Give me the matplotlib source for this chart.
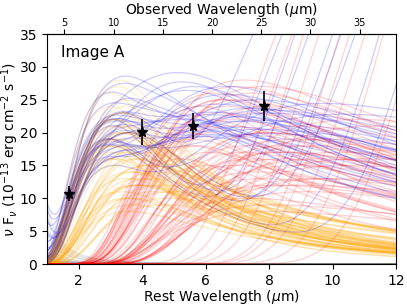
import numpy as np
import matplotlib.pyplot as plt

# photometry (rest frame)
wave_obs = [1.7, 4.0, 5.6, 7.85]
flux_obs = [10.7, 20.1, 21.0, 24.0]
flux_err = [1.1, 2.0, 2.0, 2.3]

one_plus_z = 3.225

# fitted samples: hot component (orange), warm component (red), stellar (gray)
orange_peak = [3.3, 3.0, 3.5, 3.2, 2.9, 3.6, 3.1, 3.0, 3.4, 3.25, 2.95, 3.5, 3.05, 3.3, 3.45, 3.1, 3.6, 3.2, 2.9, 3.4,
               3.15, 3.35, 3.55, 3.0, 3.2, 3.5, 3.05, 3.4, 3.2, 3.1, 3.25, 2.95, 3.6, 3.2, 3.4, 3.0, 3.3, 3.15, 3.5, 3.2]
orange_height = [28, 26, 24, 22, 19, 20, 18, 17, 23, 20, 16, 25, 19, 21, 18, 22, 20, 16, 18, 23,
                 21, 17, 20, 24, 16, 19, 22, 20, 18, 21, 27, 19, 17, 22, 20, 18, 23, 15, 21, 19]
orange_slope = [3.0, 2.8, 3.2, 2.6, 3.4, 2.9, 3.1, 2.7, 3.3, 3.0, 2.5, 3.2, 2.9, 3.5, 2.8, 3.0, 2.6, 3.1, 3.3, 2.7,
                3.0, 2.9, 3.4, 2.8, 3.2, 2.6, 3.1, 3.0, 2.7, 3.3, 2.9, 3.2, 2.8, 3.0, 3.5, 2.6, 3.1, 2.9, 3.0, 2.7]

red_peak = [8.0, 9.0, 7.5, 10.0, 8.5, 7.0, 9.5, 8.0, 11.0, 7.8, 8.8, 9.2, 14.0, 7.2, 10.5, 8.2, 18.0, 9.0, 7.6, 12.0,
            8.4, 9.8, 16.0, 7.4, 8.6, 10.2, 20.0, 9.4, 7.9, 13.0, 8.1, 11.5, 15.0, 9.6, 7.3, 22.0, 8.9, 10.8, 17.0, 8.3]
red_height = [8, 12, 16, 13, 17, 15, 18, 20, 16, 13, 19, 11, 70, 17, 15, 12, 90, 21, 14, 55,
              16, 19, 80, 10, 18, 17, 120, 13, 20, 60, 9, 21, 75, 16, 18, 150, 15, 22, 85, 17]
red_slope = [1.2, 1.0, 1.4, 1.1, 1.3, 1.5, 1.0, 1.2, 0.9, 1.4, 1.1, 1.3, 2.0, 1.6, 1.0, 1.2, 2.0, 1.1, 1.5, 1.8,
             1.3, 1.0, 2.2, 1.4, 1.2, 1.1, 2.0, 1.3, 1.5, 1.9, 1.2, 0.9, 2.0, 1.1, 1.6, 2.2, 1.3, 1.0, 2.0, 1.2]

star_amp = [0.5, 1.0, 0.0, 2.0, 0.3, 0.0, 8.0, 1.5, 0.0, 0.6, 3.0, 0.0, 0.2, 1.0, 0.0, 6.0, 0.4, 0.0, 1.2, 0.0,
            9.0, 0.5, 0.0, 2.5, 0.8, 0.0, 0.3, 4.5, 0.0, 1.0, 0.2, 0.0, 7.0, 0.6, 0.0, 1.8, 0.0, 0.4, 5.0, 0.0]

# other posterior draws of the single components
orange_extra_peak = [3.6, 4.0, 3.8, 4.4, 3.5, 4.2, 3.9, 4.6, 3.7, 4.1, 3.4, 4.8, 3.8, 4.3, 3.6, 4.0, 5.0, 3.9, 4.5, 3.7,
                     4.2, 3.5, 4.7, 4.0, 3.8]
orange_extra_height = [14, 12, 16, 11, 10, 15, 13, 12, 9, 17, 11, 10, 14, 13, 8, 16, 11, 12, 14, 10, 15, 13, 9, 18, 12]
orange_extra_slope = [2.4, 2.0, 2.8, 1.8, 2.6, 2.2, 3.0, 1.9, 2.5, 2.3, 2.7, 1.8, 2.1, 2.9, 2.4, 2.0, 1.9, 2.6, 2.2, 2.8,
                      2.1, 2.5, 2.0, 2.3, 2.7]

red_extra_peak = [6.0, 6.5, 5.5, 7.0, 6.2, 5.8, 7.5, 6.8, 5.2, 6.4, 7.2, 5.6, 6.6, 8.0, 6.1, 5.4, 7.8, 6.9, 5.9, 6.3,
                  7.4, 5.7, 6.7, 7.1, 6.0]
red_extra_height = [22, 25, 18, 27, 20, 24, 26, 21, 16, 23, 28, 19, 25, 24, 17, 20, 27, 22, 21, 26, 23, 18, 24, 25, 15]
red_extra_slope = [1.8, 2.2, 2.5, 1.6, 2.0, 2.4, 1.5, 1.9, 2.6, 2.1, 1.7, 2.3, 1.8, 1.5, 2.5, 2.2, 1.6, 2.0, 2.4, 1.7,
                   1.9, 2.3, 2.1, 1.8, 2.6]


def shape(r, slope, sharp):
    return r ** (-slope) * np.exp(-(slope / sharp) * (r ** (-sharp) - 1))


def bump(x, peak, height, slope, sharp, rise=2.0):
    # Wien-like cutoff on the blue side, power law on the red side
    r = x / peak
    left = shape(r, rise, sharp)
    right = shape(r, slope, sharp)
    return height * np.where(r < 1, left, right)


def stellar(x, amp):
    return amp * x ** (-2.5)


x = np.linspace(1, 12, 400)

fig = plt.figure(figsize=(4.07, 3.05), dpi=100)
ax = fig.add_axes([0.1155, 0.1344, 0.8575, 0.7541])

lw = 0.9
for a in star_amp:
    ax.plot(x, stellar(x, a), color='gray', alpha=0.15, lw=lw)

for p, h, s in zip(orange_extra_peak, orange_extra_height, orange_extra_slope):
    ax.plot(x, bump(x, p, h, s, 1.5), color='orange', alpha=0.25, lw=lw)
for p, h, s in zip(red_extra_peak, red_extra_height, red_extra_slope):
    ax.plot(x, bump(x, p, h, s, 2.0, rise=s), color='red', alpha=0.18, lw=lw)

# each sample: total, then its components on top
for i in range(len(orange_peak)):
    hot = bump(x, orange_peak[i], orange_height[i], orange_slope[i], 1.5)
    warm = bump(x, red_peak[i], red_height[i], red_slope[i], 2.5, rise=red_slope[i])
    total = hot + warm + stellar(x, star_amp[i])
    ax.plot(x, total, color='blue', alpha=0.2, lw=lw)
    ax.plot(x, hot, color='orange', alpha=0.2, lw=lw)
    ax.plot(x, warm, color='red', alpha=0.18, lw=lw)

ax.errorbar(wave_obs, flux_obs, yerr=flux_err, fmt='*', color='k', ms=8, elinewidth=1.2, capsize=0, zorder=10)

ax.set_xlim(1, 12)
ax.set_ylim(0, 35)
ax.set_xticks([2, 4, 6, 8, 10, 12])
ax.set_yticks([0, 5, 10, 15, 20, 25, 30, 35])
ax.tick_params(labelsize=10)
ax.set_xlabel(r'Rest Wavelength ($\mu$m)', fontsize=10, labelpad=0)
ax.set_ylabel(r'$\nu$ F$_\nu$ (10$^{-13}$ erg cm$^{-2}$ s$^{-1}$)', fontsize=10, labelpad=-1)
ax.text(0.04, 0.9, 'Image A', transform=ax.transAxes, fontsize=11)

top = ax.secondary_xaxis('top', functions=(lambda w: w * one_plus_z, lambda w: w / one_plus_z))
top.set_xticks([5, 10, 15, 20, 25, 30, 35])
top.tick_params(labelsize=7, pad=1)
top.set_xlabel(r'Observed Wavelength ($\mu$m)', fontsize=10, labelpad=3)

fig.savefig('out.png', dpi=100)
